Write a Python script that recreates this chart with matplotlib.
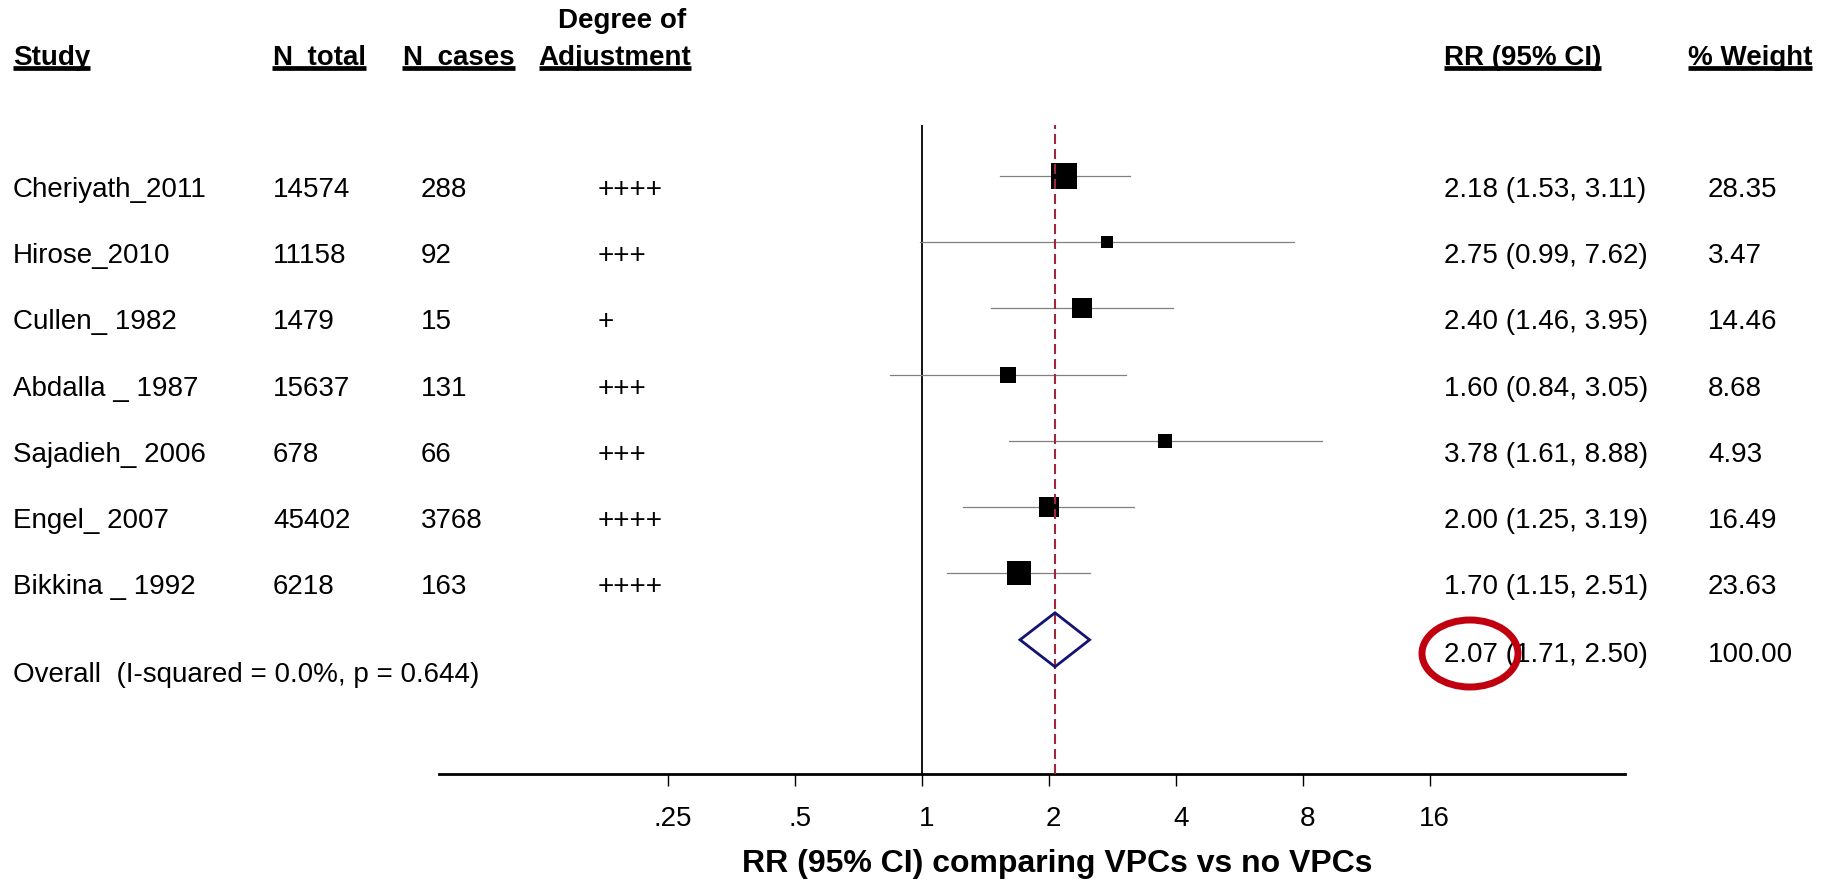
import matplotlib
matplotlib.use("Agg")
import matplotlib.pyplot as plt
import matplotlib.transforms as mtrans
from matplotlib.patches import Polygon, Ellipse
from matplotlib.lines import Line2D
from matplotlib.ticker import NullLocator
import numpy as np

plt.rcParams['font.family'] = ['Liberation Sans', 'DejaVu Sans']

# ---------------- data ----------------
studies = ["Cheriyath_2011", "Hirose_2010", "Cullen_ 1982", "Abdalla _ 1987",
           "Sajadieh_ 2006", "Engel_ 2007", "Bikkina _ 1992"]
n_total = [14574, 11158, 1479, 15637, 678, 45402, 6218]
n_cases = [288, 92, 15, 131, 66, 3768, 163]
adjustment = ["++++", "+++", "+", "+++", "+++", "++++", "++++"]
rr = [2.18, 2.75, 2.40, 1.60, 3.78, 2.00, 1.70]
ci_low = [1.53, 0.99, 1.46, 0.84, 1.61, 1.25, 1.15]
ci_high = [3.11, 7.62, 3.95, 3.05, 8.88, 3.19, 2.51]
weight = [28.35, 3.47, 14.46, 8.68, 4.93, 16.49, 23.63]

overall_rr = 2.07
overall_low = 1.71
overall_high = 2.50
overall_weight = 100.00
overall_label = "Overall  (I-squared = 0.0%, p = 0.644)"

xticks = [0.25, 0.5, 1, 2, 4, 8, 16]
xtick_labels = [".25", ".5", "1", "2", "4", "8", "16"]
xlabel = "RR (95% CI) comparing VPCs vs no VPCs"

headers = ["Study", "N_total", "N_cases", "Adjustment", "RR (95% CI)", "% Weight"]

# ---------------- layout (pixels) ----------------
W, H, DPI = 1829, 880, 100
fig = plt.figure(figsize=(W / DPI, H / DPI), dpi=DPI)

def fx(px):
    return px / W

def fy(py):
    return 1 - py / H

ax_left, ax_right = 439.4, 1625.0
ax_top, ax_bottom = 125.0, 774.3
ax = fig.add_axes([fx(ax_left), fy(ax_bottom), fx(ax_right - ax_left), (ax_bottom - ax_top) / H])

x1_px = 921.7
per_doubling = 127.0
row0_px = 175.7
row_h = 66.3

ax.set_xscale('log', base=2)
ax.set_xlim(2 ** ((ax_left - x1_px) / per_doubling), 2 ** ((ax_right - x1_px) / per_doubling))
ax.set_ylim((ax_bottom - row0_px) / row_h, (ax_top - row0_px) / row_h)

for s in ['top', 'left', 'right']:
    ax.spines[s].set_visible(False)
ax.spines['bottom'].set_linewidth(2.0)
ax.set_yticks([])
ax.set_xticks(xticks)
ax.set_xticklabels(xtick_labels)
ax.xaxis.set_minor_locator(NullLocator())
ax.tick_params(axis='x', direction='out', length=8.6, width=1.0, labelsize=20, pad=14)
for lbl in ax.get_xticklabels():
    lbl.set_transform(lbl.get_transform() + mtrans.ScaledTranslation(5 / DPI, 0, fig.dpi_scale_trans))

ax.set_xlabel(xlabel, fontsize=23, fontweight='bold')
ax.xaxis.set_label_coords((1057 - ax_left) / (ax_right - ax_left),
                          -(871.7 - ax_bottom) / (ax_bottom - ax_top))
ax.xaxis.label.set_va('baseline')

# reference lines
ax.axvline(1, color='black', lw=1.3, zorder=1)
ax.axvline(overall_rr, color='#a0283a', lw=1.5, linestyle=(0, (4.8, 2.4)), zorder=4)

# CI lines and squares
rows = np.arange(len(studies))
for i in rows:
    ax.plot([ci_low[i], ci_high[i]], [i, i], color='#808080', lw=0.9, zorder=2)
    side_px = 4.9 + 3.96 * np.sqrt(weight[i])
    ax.plot([rr[i]], [i], marker='s', color='black', markersize=side_px * 72 / DPI,
            markeredgewidth=0, linestyle='none', zorder=3)

# overall diamond
yd = len(studies)
hd = 27.0 / row_h
diamond = Polygon([[overall_low, yd], [overall_rr, yd - hd], [overall_high, yd], [overall_rr, yd + hd]],
                  closed=True, facecolor='none', edgecolor='#141470', lw=2.0, zorder=5)
ax.add_patch(diamond)

# ---------------- text columns ----------------
tr_rows = mtrans.blended_transform_factory(fig.transFigure, ax.transData)
txt_off = 21.0 / row_h
fs = 20
col_x = {'study': 13, 'ntot': 273, 'ncase': 421, 'adj': 598, 'rr': 1444, 'w': 1708}
for i in rows:
    y = i + txt_off
    fig.text(fx(col_x['study']), y, studies[i], transform=tr_rows, fontsize=fs, va='baseline')
    fig.text(fx(col_x['ntot']), y, str(n_total[i]), transform=tr_rows, fontsize=fs, va='baseline')
    fig.text(fx(col_x['ncase']), y, str(n_cases[i]), transform=tr_rows, fontsize=fs, va='baseline')
    fig.text(fx(col_x['adj']), y, adjustment[i], transform=tr_rows, fontsize=fs, va='baseline')
    fig.text(fx(col_x['rr']), y, f"{rr[i]:.2f} ({ci_low[i]:.2f}, {ci_high[i]:.2f})",
             transform=tr_rows, fontsize=fs, va='baseline')
    fig.text(fx(col_x['w']), y, f"{weight[i]:.2f}", transform=tr_rows, fontsize=fs, va='baseline')

fig.text(fx(col_x['rr']), yd + 22.0 / row_h, f"{overall_rr:.2f} ({overall_low:.2f}, {overall_high:.2f})",
         transform=tr_rows, fontsize=fs, va='baseline')
fig.text(fx(col_x['w']), yd + 22.0 / row_h, f"{overall_weight:.2f}", transform=tr_rows, fontsize=fs, va='baseline')
fig.text(fx(col_x['study']), yd + 41.7 / row_h, overall_label, transform=tr_rows, fontsize=fs, va='baseline')

# ---------------- headers ----------------
hdr_x = [13, 272, 402, 538.6, 1444, 1688]
hdr_texts = []
for hx, h in zip(hdr_x, headers):
    t = fig.text(fx(hx), fy(65), h, fontsize=20, fontweight='bold', va='baseline')
    hdr_texts.append(t)
fig.text(fx(558), fy(27.5), "Degree of", fontsize=20, fontweight='bold', va='baseline')

fig.canvas.draw()
renderer = fig.canvas.get_renderer()
for t in hdr_texts:
    bb = t.get_window_extent(renderer)
    fig.add_artist(Line2D([bb.x0 / W, bb.x1 / W], [fy(68.5), fy(68.5)], transform=fig.transFigure,
                          color='black', lw=3.4, solid_capstyle='butt', zorder=6))

# red highlight ellipse
fig.add_artist(Ellipse((fx(1470), fy(653.5)), 96 / W, 67 / H, transform=fig.transFigure,
                       facecolor='none', edgecolor='#c0000f', lw=5.0, zorder=10))

fig.savefig("out.png", dpi=DPI, facecolor='white')
